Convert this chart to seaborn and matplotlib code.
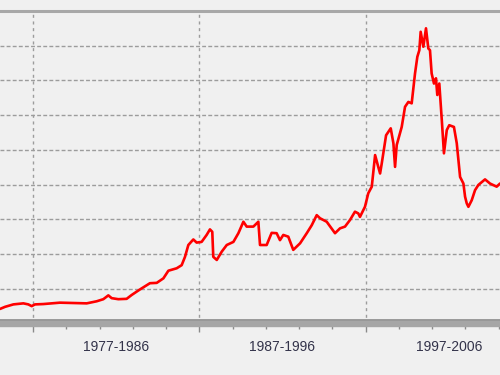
import matplotlib
matplotlib.use("Agg")
import matplotlib.pyplot as plt
import matplotlib.transforms as mtransforms
from matplotlib.ticker import FixedLocator, NullFormatter
import seaborn as sns
import pandas as pd

# ---- data ----
years = [1975.02, 1975.32, 1975.82, 1976.42, 1976.72, 1976.92, 1977.12, 1977.62,
         1978.62, 1980.23, 1980.83, 1981.23, 1981.53, 1981.73, 1982.13, 1982.63,
         1982.93, 1983.24, 1983.43, 1984.03, 1984.44, 1984.84, 1985.14, 1985.64,
         1985.94, 1986.14, 1986.34, 1986.64, 1986.84, 1987.14, 1987.44, 1987.64,
         1987.78, 1987.84, 1988.05, 1988.35, 1988.65, 1989.05, 1989.35, 1989.65,
         1989.85, 1990.25, 1990.55, 1990.65, 1991.05, 1991.35, 1991.65, 1991.85,
         1992.05, 1992.35, 1992.65, 1993.06, 1993.46, 1993.76, 1994.06, 1994.26,
         1994.66, 1995.16, 1995.46, 1995.76, 1996.06, 1996.36, 1996.56, 1996.66,
         1996.96, 1997.16, 1997.37, 1997.57, 1997.76, 1997.87, 1997.97, 1998.23,
         1998.51, 1998.67, 1998.77, 1998.87, 1999.17, 1999.37, 1999.57, 1999.77,
         1999.97, 2000.11, 2000.23, 2000.31, 2000.47, 2000.63, 2000.77, 2000.87,
         2000.97, 2001.11, 2001.23, 2001.31, 2001.43, 2001.58, 2001.71, 2001.88,
         2002.03, 2002.31, 2002.48, 2002.68, 2002.88, 2002.98, 2003.08, 2003.18,
         2003.38, 2003.58, 2003.78, 2004.18, 2004.48, 2004.88, 2005.08]
values = [0.42, 0.48, 0.55, 0.58, 0.55, 0.50, 0.55, 0.56,
          0.60, 0.58, 0.64, 0.70, 0.81, 0.73, 0.70, 0.71,
          0.82, 0.92, 0.98, 1.16, 1.17, 1.30, 1.52, 1.59,
          1.68, 1.92, 2.26, 2.42, 2.33, 2.35, 2.55, 2.71,
          2.64, 1.92, 1.83, 2.07, 2.26, 2.35, 2.60, 2.93,
          2.79, 2.79, 2.93, 2.26, 2.26, 2.61, 2.60, 2.40,
          2.55, 2.50, 2.12, 2.31, 2.60, 2.83, 3.12, 3.03,
          2.93, 2.60, 2.74, 2.79, 2.98, 3.22, 3.17, 3.07,
          3.36, 3.75, 3.94, 4.85, 4.51, 4.32, 4.61, 5.42,
          5.62, 5.19, 4.51, 5.14, 5.66, 6.24, 6.38, 6.34,
          7.20, 7.68, 7.87, 8.40, 7.97, 8.50, 7.92, 7.87,
          7.20, 6.91, 7.06, 6.58, 6.91, 5.86, 4.90, 5.57,
          5.71, 5.66, 5.19, 4.22, 4.03, 3.65, 3.46, 3.36,
          3.55, 3.84, 3.99, 4.15, 4.03, 3.94, 4.03]

decade_labels = ["1977-1986", "1987-1996", "1997-2006"]
decade_starts = [1977, 1987, 1997]
minor_years = [1975, 1979, 1981, 1983, 1985, 1989, 1991, 1993, 1995,
               1999, 2001, 2003, 2005]
grid_levels = [1, 2, 3, 4, 5, 6, 7, 8]

df = pd.DataFrame({"year": years, "value": values})

# ---- style ----
sns.set_theme(style="white")
plt.rcParams["font.family"] = ["Liberation Sans", "DejaVu Sans"]

bg = "#f0f0f0"
fig = plt.figure(figsize=(5, 3.75), dpi=100, facecolor=bg)
ax = fig.add_axes([0.0, 1 - 323.5 / 375, 1.0, (323.5 - 10.95) / 375])
ax.set_facecolor(bg)

# grid lines
for lv in grid_levels:
    ax.axhline(lv, color="#9c9c9c", linewidth=1.0, dashes=(2.8, 1.6), zorder=1)
for d in decade_starts:
    ax.axvline(d, color="#9c9c9c", linewidth=1.0, dashes=(2.2, 2.6), zorder=1)

sns.lineplot(data=df, x="year", y="value", color="#ff0000", linewidth=1.9,
             ax=ax, zorder=3)

ax.set_xlim(1975.016, 2005.08)
ax.set_ylim(0, 9)

# spines
for s in ["left", "right"]:
    ax.spines[s].set_visible(False)
ax.spines["top"].set_color("#a8a8a8")
ax.spines["top"].set_linewidth(2.2)
ax.spines["bottom"].set_color("#a6a6a6")
ax.spines["bottom"].set_linewidth(4.6)
ax.spines["bottom"].set_zorder(5)
ax.axhline(0.11, color="#828282", linewidth=1.1, zorder=6, clip_on=False)

# ticks
ax.xaxis.set_major_locator(FixedLocator(decade_starts))
ax.xaxis.set_minor_locator(FixedLocator(minor_years))
ax.xaxis.set_major_formatter(NullFormatter())
ax.tick_params(axis="x", which="major", direction="out", length=5.8, width=1.0,
               color="#8a8a8a", bottom=True)
ax.tick_params(axis="x", which="minor", direction="out", length=3.6, width=1.0,
               color="#8a8a8a", bottom=True)
ax.set_yticks([])
ax.set_xlabel("")
ax.set_ylabel("")

# decade labels, centred between the decade ticks
trans = mtransforms.blended_transform_factory(ax.transData, fig.transFigure)
for start, lab in zip(decade_starts, decade_labels):
    ax.text(start + 5, 1 - 347 / 375, lab, transform=trans, ha="center",
            va="center", fontsize=10, color="#33334a")

fig.savefig("out.png", dpi=100, facecolor=bg)
